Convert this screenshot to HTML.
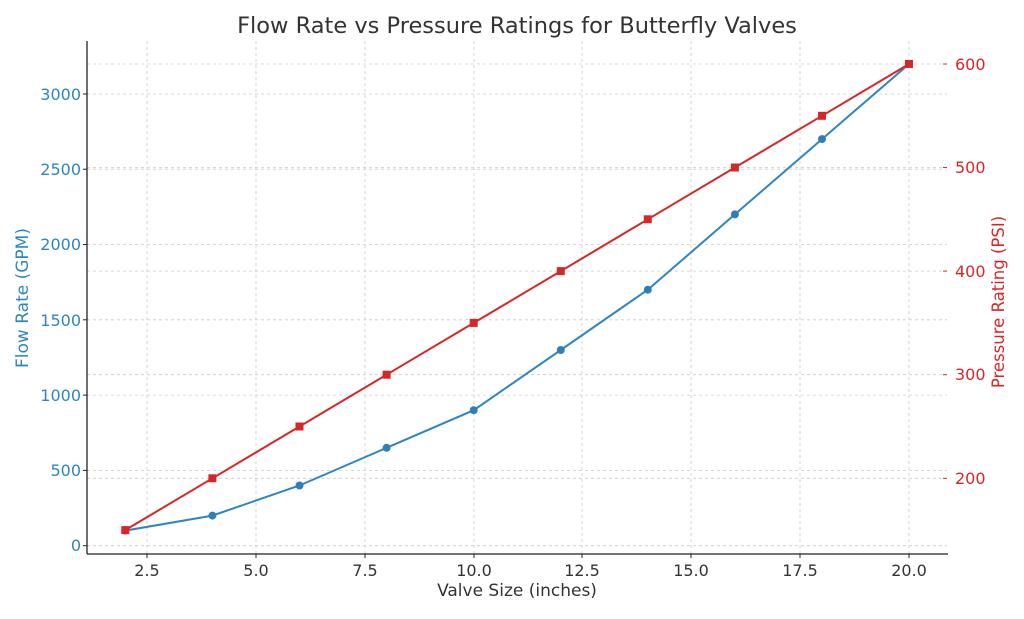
<!DOCTYPE html><html><head><style>body{margin:0;background:#fff}</style></head><body>
<svg width="1024" height="614" xmlns="http://www.w3.org/2000/svg" font-family="'DejaVu Sans','Liberation Sans',sans-serif">
<g stroke="#cccccc" stroke-dasharray="3,3" stroke-width="0.8">
<line x1="147" y1="41" x2="147" y2="554"/><line x1="256" y1="41" x2="256" y2="554"/><line x1="365" y1="41" x2="365" y2="554"/><line x1="474" y1="41" x2="474" y2="554"/><line x1="582" y1="41" x2="582" y2="554"/><line x1="691" y1="41" x2="691" y2="554"/><line x1="800" y1="41" x2="800" y2="554"/><line x1="909" y1="41" x2="909" y2="554"/>
<line x1="87" y1="545.7" x2="947" y2="545.7"/><line x1="87" y1="470.4" x2="947" y2="470.4"/><line x1="87" y1="395.1" x2="947" y2="395.1"/><line x1="87" y1="319.8" x2="947" y2="319.8"/><line x1="87" y1="244.5" x2="947" y2="244.5"/><line x1="87" y1="169.2" x2="947" y2="169.2"/><line x1="87" y1="94" x2="947" y2="94"/>
<line x1="87" y1="478.3" x2="947" y2="478.3"/><line x1="87" y1="374.7" x2="947" y2="374.7"/><line x1="87" y1="271.1" x2="947" y2="271.1"/><line x1="87" y1="167.5" x2="947" y2="167.5"/><line x1="87" y1="64" x2="947" y2="64"/>
</g>
<line x1="87" y1="41" x2="87" y2="554" stroke="#222" stroke-width="1.3"/>
<line x1="87" y1="554" x2="948" y2="554" stroke="#222" stroke-width="1.3"/>
<g stroke="#222"><line x1="147" y1="554" x2="147" y2="558"/><line x1="256" y1="554" x2="256" y2="558"/><line x1="365" y1="554" x2="365" y2="558"/><line x1="474" y1="554" x2="474" y2="558"/><line x1="582" y1="554" x2="582" y2="558"/><line x1="691" y1="554" x2="691" y2="558"/><line x1="800" y1="554" x2="800" y2="558"/><line x1="909" y1="554" x2="909" y2="558"/>
<line x1="83" y1="545.7" x2="87" y2="545.7"/><line x1="83" y1="470.4" x2="87" y2="470.4"/><line x1="83" y1="395.1" x2="87" y2="395.1"/><line x1="83" y1="319.8" x2="87" y2="319.8"/><line x1="83" y1="244.5" x2="87" y2="244.5"/><line x1="83" y1="169.2" x2="87" y2="169.2"/><line x1="83" y1="94" x2="87" y2="94"/></g>
<g stroke="#d62728"><line x1="943" y1="478.3" x2="947" y2="478.3"/><line x1="943" y1="374.7" x2="947" y2="374.7"/><line x1="943" y1="271.1" x2="947" y2="271.1"/><line x1="943" y1="167.5" x2="947" y2="167.5"/><line x1="943" y1="64" x2="947" y2="64"/></g>
<g font-size="16" fill="#333" text-anchor="middle"><text x="147" y="576">2.5</text><text x="256" y="576">5.0</text><text x="365" y="576">7.5</text><text x="474" y="576">10.0</text><text x="582" y="576">12.5</text><text x="691" y="576">15.0</text><text x="800" y="576">17.5</text><text x="909" y="576">20.0</text>
<text x="517" y="596" font-size="17">Valve Size (inches)</text></g>
<g font-size="16" fill="#2e86c1" text-anchor="end"><text x="81" y="551">0</text><text x="81" y="476">500</text><text x="81" y="401">1000</text><text x="81" y="326">1500</text><text x="81" y="250">2000</text><text x="81" y="175">2500</text><text x="81" y="100">3000</text></g>
<text transform="translate(28,298) rotate(-90)" font-size="17" fill="#2e86c1" text-anchor="middle">Flow Rate (GPM)</text>
<g font-size="16" fill="#d62728"><text x="955" y="484">200</text><text x="955" y="380">300</text><text x="955" y="277">400</text><text x="955" y="173">500</text><text x="955" y="70">600</text></g>
<text transform="translate(1004,302) rotate(-90)" font-size="16.5" fill="#d62728" text-anchor="middle">Pressure Rating (PSI)</text>
<text x="517" y="33" font-size="22.5" fill="#333" text-anchor="middle">Flow Rate vs Pressure Ratings for Butterfly Valves</text>
<polyline fill="none" stroke="#2e86c1" stroke-width="2" points="125.3,530.6 212.4,515.6 299.5,485.5 386.6,447.8 473.7,410.2 560.8,350 647.8,289.7 734.9,214.4 822,139.1 909,64"/>
<g fill="#2e7fb8"><circle cx="125.3" cy="530.6" r="4"/><circle cx="212.4" cy="515.6" r="4"/><circle cx="299.5" cy="485.5" r="4"/><circle cx="386.6" cy="447.8" r="4"/><circle cx="473.7" cy="410.2" r="4"/><circle cx="560.8" cy="350" r="4"/><circle cx="647.8" cy="289.7" r="4"/><circle cx="734.9" cy="214.4" r="4"/><circle cx="822" cy="139.1" r="4"/><circle cx="909" cy="64" r="4"/></g>
<polyline fill="none" stroke="#d62728" stroke-width="2" points="125.3,530.1 212.4,478.3 299.5,426.5 386.6,374.7 473.7,322.9 560.8,271.1 647.8,219.3 734.9,167.5 822,115.8 909,64"/>
<g fill="#d62728"><rect x="121.3" y="526.1" width="8" height="8"/><rect x="208.4" y="474.3" width="8" height="8"/><rect x="295.5" y="422.5" width="8" height="8"/><rect x="382.6" y="370.7" width="8" height="8"/><rect x="469.7" y="318.9" width="8" height="8"/><rect x="556.8" y="267.1" width="8" height="8"/><rect x="643.8" y="215.3" width="8" height="8"/><rect x="730.9" y="163.5" width="8" height="8"/><rect x="818" y="111.8" width="8" height="8"/><rect x="905" y="60" width="8" height="8"/></g>
</svg></body></html>
